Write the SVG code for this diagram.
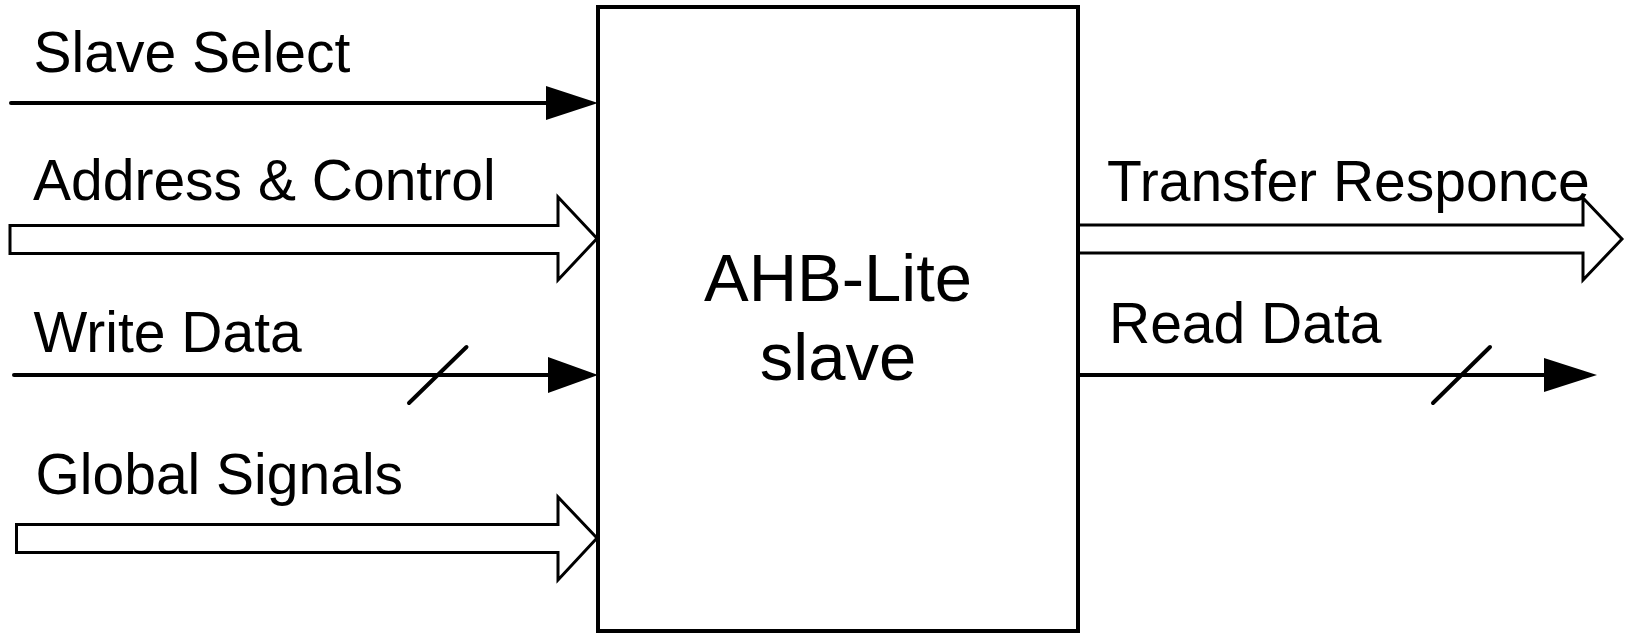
<svg xmlns="http://www.w3.org/2000/svg" width="1631" height="634" viewBox="0 0 1631 634">
  <style>
    .label { font-family: "Liberation Sans", Arial, sans-serif; font-size: 57px; fill: #000; }
    .title { font-family: "Liberation Sans", Arial, sans-serif; font-size: 67px; fill: #000; text-anchor: middle; }
    .wire { stroke: #000; stroke-width: 4; stroke-linecap: round; fill: none; }
    .bus { stroke: #000; stroke-width: 3; stroke-linejoin: miter; fill: #fff; }
    .head { fill: #000; stroke: none; }
  </style>

  <rect width="1631" height="634" fill="#fff"/>

  <!-- signal connectors -->
  <g id="connectors">
    <!-- Slave Select: single wire -->
    <line class="wire" x1="11" y1="103" x2="560" y2="103"/>
    <polygon class="head" points="546,86 598,103 546,120"/>

    <!-- Address & Control: bus -->
    <polygon class="bus" points="10,225.5 558,225.5 558,197 597,238.5 558,280 558,253.5 10,253.5"/>

    <!-- Write Data: multi-bit wire -->
    <line class="wire" x1="14" y1="375" x2="560" y2="375"/>
    <polygon class="head" points="548,357 598,375 548,393"/>
    <line class="wire" x1="409" y1="403" x2="466.5" y2="347"/>

    <!-- Global Signals: bus -->
    <polygon class="bus" points="16.5,524.5 558,524.5 558,497 597,538 558,580 558,552.5 16.5,552.5"/>

    <!-- Transfer Responce: bus out -->
    <polygon class="bus" points="1078,225 1583,225 1583,198 1622,239 1583,280 1583,253 1078,253"/>

    <!-- Read Data: multi-bit wire out -->
    <line class="wire" x1="1078" y1="375" x2="1555" y2="375"/>
    <polygon class="head" points="1544,358 1597,375 1544,392"/>
    <line class="wire" x1="1433" y1="403" x2="1490" y2="347"/>
  </g>

  <!-- slave block -->
  <g id="ahb-lite-slave">
    <rect x="598" y="7" width="480" height="624" fill="#fff" stroke="#000" stroke-width="4"/>
    <text class="title" x="838" y="301">AHB-Lite</text>
    <text class="title" x="838" y="380">slave</text>
  </g>

  <!-- signal labels -->
  <g id="labels">
    <text class="label" x="33.5" y="72">Slave Select</text>
    <text class="label" x="33" y="200">Address &amp; Control</text>
    <text class="label" x="33.5" y="352">Write Data</text>
    <text class="label" x="35.5" y="494">Global Signals</text>
    <text class="label" x="1107" y="200.5">Transfer Responce</text>
    <text class="label" x="1109" y="343">Read Data</text>
  </g>
</svg>
